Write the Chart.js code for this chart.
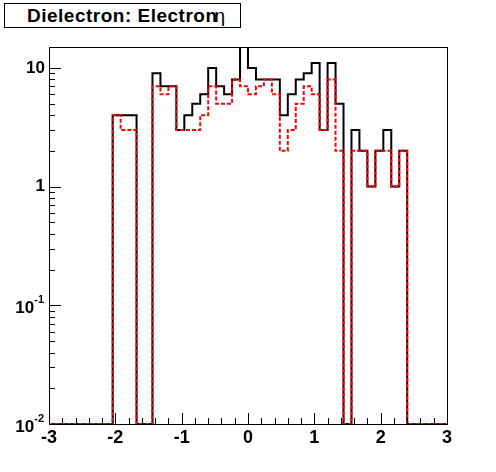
<!DOCTYPE html>
<html>
<head>
<meta charset="utf-8">
<script src="https://cdn.jsdelivr.net/npm/chart.js@4/dist/chart.umd.min.js"></script>
<style>
  body { margin: 0; background: #fff; }
  #wrap { position: relative; width: 496px; height: 472px; }
  #title {
    position: absolute; left: 4px; top: 3px; height: 23px;
    border: 1px solid #000; background: #fff;
    font: bold 19px "Liberation Sans", Arial, sans-serif;
    letter-spacing: 0.5px;
    line-height: 24px; padding-left: 22px; box-sizing: content-box; width: 213px;
    white-space: nowrap; color: #000;
  }
  #title span { font-weight: normal; margin-left: -3px; }
</style>
</head>
<body>
<div id="wrap">
  <canvas id="chart" width="496" height="472"></canvas>
  <div id="title">Dielectron: Electron<span>η</span></div>
</div>
<script>
// Histogram binning: 50 bins from -3 to 3
const xLow = -3;
const binWidth = 0.12;

// Bin contents (0 = empty bin)
const allCounts = [
  0, 0, 0, 0, 0, 0, 0, 0, 4, 4,
  4, 0, 0, 9, 7, 7, 3, 4, 5, 6,
  10, 7, 6, 8, 15, 10, 8, 8, 8, 4,
  6, 8, 9, 11, 3, 11, 5, 0, 3, 2,
  1, 2, 3, 1, 2, 0, 0, 0, 0, 0
];
const selCounts = [
  0, 0, 0, 0, 0, 0, 0, 0, 4, 3,
  3, 0, 0, 7, 6, 7, 3, 3, 3, 4,
  7, 5, 5, 8, 7, 6, 7, 8, 6, 2,
  3, 5, 7, 6, 3, 8, 2, 0, 2, 2,
  1, 2, 2, 1, 2, 0, 0, 0, 0, 0
];

// Axis ticks
const xTicks = [-3, -2, -1, 0, 1, 2, 3];
const yTicks = [0.01, 0.1, 1, 10];
const yTickLabels = [['10', '-2'], ['10', '-1'], ['1', ''], ['10', '']];
const yMin = 0.01, yMax = 15;

// Build step points at bin low edges; empty bins sit on the frame bottom
function toSteps(counts) {
  const pts = counts.map((c, i) => ({ x: xLow + i * binWidth, y: c > 0 ? c : yMin }));
  pts.push({ x: xLow + counts.length * binWidth, y: pts[pts.length - 1].y });
  return pts;
}

const font = '"Liberation Sans", Arial, sans-serif';

// ROOT-like frame, inward ticks and labels
const frameAxes = {
  id: 'frameAxes',
  afterDraw(chart) {
    const { ctx, chartArea: a, scales } = chart;
    const xs = scales.x, ys = scales.y;
    ctx.save();
    ctx.strokeStyle = '#000';
    ctx.lineWidth = 1;
    ctx.strokeRect(a.left + 0.5, a.top + 0.5, a.right - a.left, a.bottom - a.top);

    ctx.beginPath();
    // x minor ticks every 0.2, major every 1
    for (let i = 0; i <= 30; i++) {
      const v = -3 + i * 0.2;
      const px = Math.round(xs.getPixelForValue(v)) + 0.5;
      const len = i % 5 === 0 ? 11 : 6;
      ctx.moveTo(px, a.bottom);
      ctx.lineTo(px, a.bottom - len);
    }
    // y log ticks
    for (let e = -2; e <= 1; e++) {
      for (let m = 1; m <= 9; m++) {
        const v = m * Math.pow(10, e);
        if (v > yMax) break;
        const py = Math.round(ys.getPixelForValue(v)) + 0.5;
        const len = m === 1 ? 12 : 6;
        ctx.moveTo(a.left, py);
        ctx.lineTo(a.left + len, py);
      }
    }
    ctx.stroke();

    ctx.fillStyle = '#000';
    ctx.font = 'bold 18px ' + font;
    ctx.textAlign = 'center';
    ctx.textBaseline = 'top';
    xTicks.forEach(v => {
      ctx.fillText(String(v), xs.getPixelForValue(v), a.bottom + 5);
    });

    ctx.textBaseline = 'middle';
    yTicks.forEach((v, i) => {
      const py = ys.getPixelForValue(v);
      const [base, exp] = yTickLabels[i];
      let right = 45;
      if (exp) {
        ctx.font = 'bold 11px ' + font;
        ctx.textAlign = 'right';
        ctx.fillText(exp, 44, py - 5);
        right = 44 - ctx.measureText(exp).width;
      }
      ctx.font = 'bold 17px ' + font;
      ctx.textAlign = 'right';
      ctx.fillText(base, right, py + (exp ? 3 : 0));
    });
    ctx.restore();
  }
};

new Chart(document.getElementById('chart'), {
  type: 'line',
  data: {
    datasets: [
      {
        label: 'selected',
        data: toSteps(selCounts),
        borderColor: '#ff0000',
        borderWidth: 2,
        borderDash: [4, 2],
        stepped: 'before',
        pointRadius: 0,
        fill: false,
        order: 0
      },
      {
        label: 'all',
        data: toSteps(allCounts),
        borderColor: '#000000',
        borderWidth: 2,
        stepped: 'before',
        pointRadius: 0,
        fill: false,
        order: 1
      }
    ]
  },
  options: {
    responsive: false,
    animation: false,
    layout: { padding: { left: 49, right: 49, top: 47, bottom: 48 } },
    plugins: { legend: { display: false }, tooltip: { enabled: false } },
    scales: {
      x: { type: 'linear', min: -3, max: 3, display: false },
      y: { type: 'logarithmic', min: yMin, max: yMax, display: false }
    }
  },
  plugins: [frameAxes]
});
</script>
</body>
</html>
